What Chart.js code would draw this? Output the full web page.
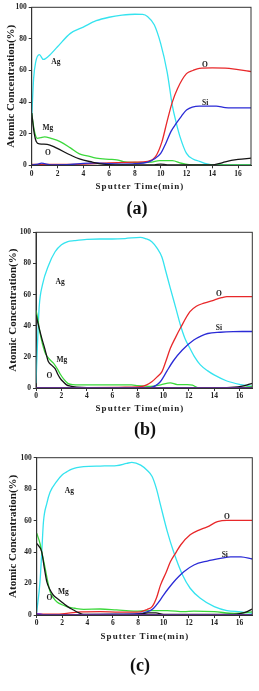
<!DOCTYPE html>
<html>
<head>
<meta charset="utf-8">
<script src="https://cdn.jsdelivr.net/npm/chart.js@4.4.1/dist/chart.umd.min.js"></script>
<style>
    body { margin:0; background:#fff; width:259px; height:691px; position:relative; overflow:hidden;
           font-family:"Liberation Serif","Times New Roman",serif; }
    canvas { position:absolute; left:0; }
    .xt { position:absolute; font-weight:bold; font-size:9px; letter-spacing:1px; color:#222;
          transform:translate(-50%,-50%); white-space:nowrap; }
    .tag { position:absolute; font-weight:bold; font-size:18px; color:#111;
           transform:translate(-50%,-50%); white-space:nowrap; }
</style>
</head>
<body>
<canvas id="chartA" width="259" height="182" style="top:0px"></canvas>
<canvas id="chartB" width="259" height="182" style="top:225px"></canvas>
<canvas id="chartC" width="259" height="182" style="top:450px"></canvas>
<div class="xt" style="left:140px;top:186px">Sputter Time(min)</div>
<div class="tag" style="left:137px;top:208px">(a)</div>
<div class="xt" style="left:140px;top:408px">Sputter Time(min)</div>
<div class="tag" style="left:145px;top:429px">(b)</div>
<div class="xt" style="left:145px;top:636px">Sputter Time(min)</div>
<div class="tag" style="left:140px;top:665px">(c)</div>
<script>
// axis ticks
let xTicks = [0, 2, 4, 6, 8, 10, 12, 14, 16];
let yTicks = [0, 20, 40, 60, 80, 100];

// (a)  [time(min), at.%]
let agA = [[0,30],[0.15,55],[0.3,65],[0.6,70],[0.9,67],[1.3,69],[2,75],[3,83.5],[4,87.5],[5,91.5],[6,93.7],[7,95],[8,95.6],[8.6,95.5],[9,94],[9.5,89],[10,77],[10.5,59],[10.9,38],[11.2,27],[11.5,18],[12,7.5],[12.5,4],[13,2.5],[13.5,1],[14,0.3],[15,0.3],[17,0.3]];
let oA = [[0,0.5],[2,0.5],[4,0.8],[6,1.5],[8,2],[9,2.5],[9.6,5.5],[10.1,15],[10.5,28],[10.9,40],[11.3,48.5],[12,58],[12.5,60],[13,61.4],[14,61.6],[15,61.5],[16,60.5],[17,59.3]];
let siA = [[0,0.3],[0.5,0.8],[0.75,1.4],[1,1],[1.5,0.3],[3,0.5],[4,1.2],[5,1.5],[6,1],[7,0.8],[8,1],[9,2],[9.5,4],[10,7.5],[10.4,14],[10.8,21.5],[11.2,26.5],[11.6,31],[12,35],[13,37.5],[14.3,37.5],[15,36.5],[15.5,36.3],[17,36.3]];
let mgA = [[0,33],[0.2,22],[0.45,17],[0.7,17.5],[1,18],[1.5,17],[2.2,15],[3,11],[3.7,7.2],[4.3,6],[5,4.5],[6,3.8],[6.6,3.5],[7.1,2.3],[8,1.8],[8.6,1.7],[9.3,2],[9.9,3],[10.9,3],[11.6,1.3],[12.2,0.4],[13,0.2],[17,0.2]];
let blkA = [[0,33],[0.2,20],[0.35,15],[0.6,13.5],[1.2,13.3],[1.9,11],[3,6.5],[3.7,4],[4.7,2],[5.5,0.7],[6.5,0.3],[9.5,0.3],[10,0.8],[10.5,0.3],[14,0.3],[14.5,1],[15,2.2],[16,3.7],[17,4.5]];

// (b)
let agB = [[0,3],[0.1,25],[0.25,52],[0.5,66],[1,79],[1.5,87.5],[2,92],[2.5,94],[3,94.6],[4,95.5],[5,95.7],[6,95.7],[7,96],[8.2,96.8],[8.6,96],[9.1,94],[9.5,90],[9.9,84],[10.2,75],[10.56,64],[11,51],[11.35,40.5],[11.7,32],[12.1,25.5],[12.5,19.5],[12.9,15],[13.5,11],[14,8.4],[15,4.5],[16.1,2.2],[17,1]];
let oB = [[0,0.3],[4,0.3],[7,0.5],[8.2,0.8],[8.7,2],[9.1,4],[9.5,7],[9.9,10.5],[10.2,17],[10.56,25.5],[11,33],[11.35,38.5],[12.1,49],[12.6,52.5],[13.2,54.5],[14,56.5],[14.6,58],[15,58.7],[17,58.7]];
let siB = [[0,0.2],[9,0.3],[9.4,1.5],[9.77,4],[10.05,7.5],[10.3,11],[10.8,17.5],[11.5,24.4],[12.4,30.8],[13,33.5],[13.5,35],[14.5,35.8],[15.5,36.2],[16.2,36.3],[17,36.3]];
let mgB = [[0,50],[0.15,44],[0.3,36],[0.7,23],[1,19],[1.37,16],[1.7,12],[1.9,9],[2.2,5.5],[2.5,3],[2.9,2.2],[4,2],[7.5,2],[8,1.5],[9,1],[9.8,2],[10.56,3.3],[11.1,2.2],[11.9,2.2],[12.3,1.8],[12.7,0.3],[16,0.3],[17,1]];
let blkB = [[0,47],[0.2,40],[0.45,32],[0.7,25],[0.97,17],[1.25,14.5],[1.5,12.5],[1.7,9],[1.9,6.2],[2.2,3.5],[2.4,2],[2.7,1.2],[3.2,0.6],[4,0.3],[15,0.3],[15.6,0.5],[16.1,1],[16.6,2],[17,3]];
let puB = [[0,0.3],[8,0.3],[17,0.3]];

// (c)
let agC = [[0,2],[0.26,21],[0.4,40],[0.53,59],[0.8,71],[1.05,78],[1.58,85],[2,89],[2.37,91],[2.77,92.8],[3.7,94.3],[5,94.7],[6.3,95],[7.1,96.4],[7.5,97],[8.2,95.3],[8.7,92],[9.1,88],[9.45,80],[9.76,70],[10.3,53],[10.8,40],[11.5,25.4],[12.1,17],[12.9,10.6],[14,5.3],[15,2.8],[16.1,2],[17,1]];
let oC = [[0,0.5],[1.5,0.5],[2.5,1.2],[3.5,2],[5,2.2],[6.5,1.8],[7.5,1.8],[8.2,2],[8.7,3.5],[9.1,5.3],[9.45,11],[9.76,19],[10.2,27],[10.55,34],[11,40],[11.35,44.5],[12.1,51],[12.8,54],[13.45,56],[14.25,59.3],[15,60.2],[17,60.2]];
let siC = [[0,0.8],[0.5,0.3],[3,0.3],[6,0.5],[8,0.8],[8.7,2],[9.2,4.2],[9.6,8],[10,12.7],[10.4,17],[10.8,21],[11.2,24.5],[11.6,27.5],[12.4,31.8],[13.45,34.3],[14.5,36],[15.3,37],[16.1,36.9],[17,35.6]];
let mgC = [[0,52],[0.26,45.5],[0.45,38],[0.66,30],[0.85,22],[1.05,15],[1.3,11],[1.58,8.5],[2,6.5],[2.37,5.3],[3,4.3],[3.7,3.6],[5,3.8],[6.3,3.2],[7.65,2.5],[9,2.8],[10.3,2.8],[11.6,2.1],[12.4,2.5],[14,2.1],[15.6,1],[17,2]];
let blkC = [[0,45.5],[0.4,40],[0.6,30],[0.8,21],[1.05,16],[1.3,12.7],[1.7,10],[2.1,7.4],[2.5,5],[2.9,3.2],[3.3,1.5],[3.7,0.4],[8,0.4],[8.8,1.3],[9.4,1.3],[10,0.4],[15.5,0.4],[16.1,1],[16.6,2.2],[17,3.8]];
let puC = [[0,1],[0.5,0.3],[17,0.3]];

// element names written inside each plot [text, time, at.%]
let namesA = [['Ag',1.88,65.4],['O',13.43,63.5],['Si',13.45,39.6],['Mg',1.26,23.6],['O',1.26,7.8]];
let namesB = [['Ag',1.89,68.3],['O',14.37,60.2],['Si',14.37,38.3],['Mg',2.03,18],['O',1.05,7.9]];
let namesC = [['Ag',2.58,78.8],['O',15,62.5],['Si',14.83,38.1],['Mg',2.1,14.8],['O',1.0,10.6]];

const SERIF = '"Liberation Serif", "Times New Roman", serif';
const COLORS = { ag:'#35e3ef', o:'#e8282a', si:'#2b2bd6', mg:'#3cd83c', blk:'#141414', pu:'#8a2be2' };

function toXY(pairs) {
    return pairs.map(p => ({ x: p[0], y: p[1] }));
}

function line(pairs, color) {
    return {
        data: toXY(pairs),
        borderColor: color,
        borderWidth: 1.3,
        pointRadius: 0,
        tension: 0.35,
        cubicInterpolationMode: 'monotone',
        fill: false
    };
}

function frameAndNames(names) {
    return {
        id: 'frameAndNames',
        afterDatasetsDraw(chart) {
            let ctx = chart.ctx;
            let a = chart.chartArea;
            ctx.save();
            ctx.strokeStyle = '#333';
            ctx.lineWidth = 1;
            ctx.strokeRect(a.left, a.top, a.right - a.left, a.bottom - a.top);
            ctx.font = 'bold 7.5px ' + SERIF;
            ctx.fillStyle = '#1a1a1a';
            ctx.textAlign = 'center';
            ctx.textBaseline = 'middle';
            names.forEach(n => {
                ctx.fillText(n[0], chart.scales.x.getPixelForValue(n[1]), chart.scales.y.getPixelForValue(n[2]));
            });
            ctx.restore();
        }
    };
}

function makeChart(id, sets, names, box) {
    return new Chart(document.getElementById(id), {
        type: 'line',
        data: { datasets: sets },
        plugins: [frameAndNames(names)],
        options: {
            responsive: false,
            animation: false,
            layout: { padding: { top: box.top, right: box.right, left: 0, bottom: 0 } },
            plugins: { legend: { display: false }, tooltip: { enabled: false } },
            scales: {
                x: {
                    type: 'linear', min: 0, max: 17,
                    afterFit: s => { s.height = box.xh; },
                    afterBuildTicks: s => { s.ticks = xTicks.map(v => ({ value: v })); },
                    ticks: { color: '#222', padding: 1, font: { family: SERIF, size: 7.5, weight: 'bold' } },
                    grid: { drawOnChartArea: false, tickLength: 3, color: '#333' },
                    border: { color: '#333', width: 1 }
                },
                y: {
                    min: 0, max: 100,
                    afterFit: s => { s.width = box.yw; },
                    afterBuildTicks: s => { s.ticks = yTicks.map(v => ({ value: v })); },
                    ticks: { color: '#222', padding: 2, font: { family: SERIF, size: 7.5, weight: 'bold' } },
                    grid: { drawOnChartArea: false, tickLength: 3, color: '#333' },
                    border: { color: '#333', width: 1 },
                    title: {
                        display: true, text: 'Atomic Concentration(%)', color: '#1a1a1a',
                        padding: { top: box.tp, bottom: 0 },
                        font: { family: SERIF, size: 11, weight: 'bold' }
                    }
                }
            }
        }
    });
}

makeChart('chartA', [
    line(blkA, COLORS.blk), line(siA, COLORS.si), line(oA, COLORS.o),
    line(mgA, COLORS.mg), line(agA, COLORS.ag)
], namesA, { top: 7.3, right: 8, xh: 16.7, yw: 31.7, tp: 4.5 });

makeChart('chartB', [
    line(puB, COLORS.pu), line(blkB, COLORS.blk), line(siB, COLORS.si), line(oB, COLORS.o),
    line(mgB, COLORS.mg), line(agB, COLORS.ag)
], namesB, { top: 7.3, right: 6.7, xh: 19, yw: 36, tp: 7 });

makeChart('chartC', [
    line(puC, COLORS.pu), line(blkC, COLORS.blk), line(siC, COLORS.si), line(oC, COLORS.o),
    line(mgC, COLORS.mg), line(agC, COLORS.ag)
], namesC, { top: 7.7, right: 6.7, xh: 17, yw: 36.7, tp: 6.4 });
</script>
</body>
</html>
